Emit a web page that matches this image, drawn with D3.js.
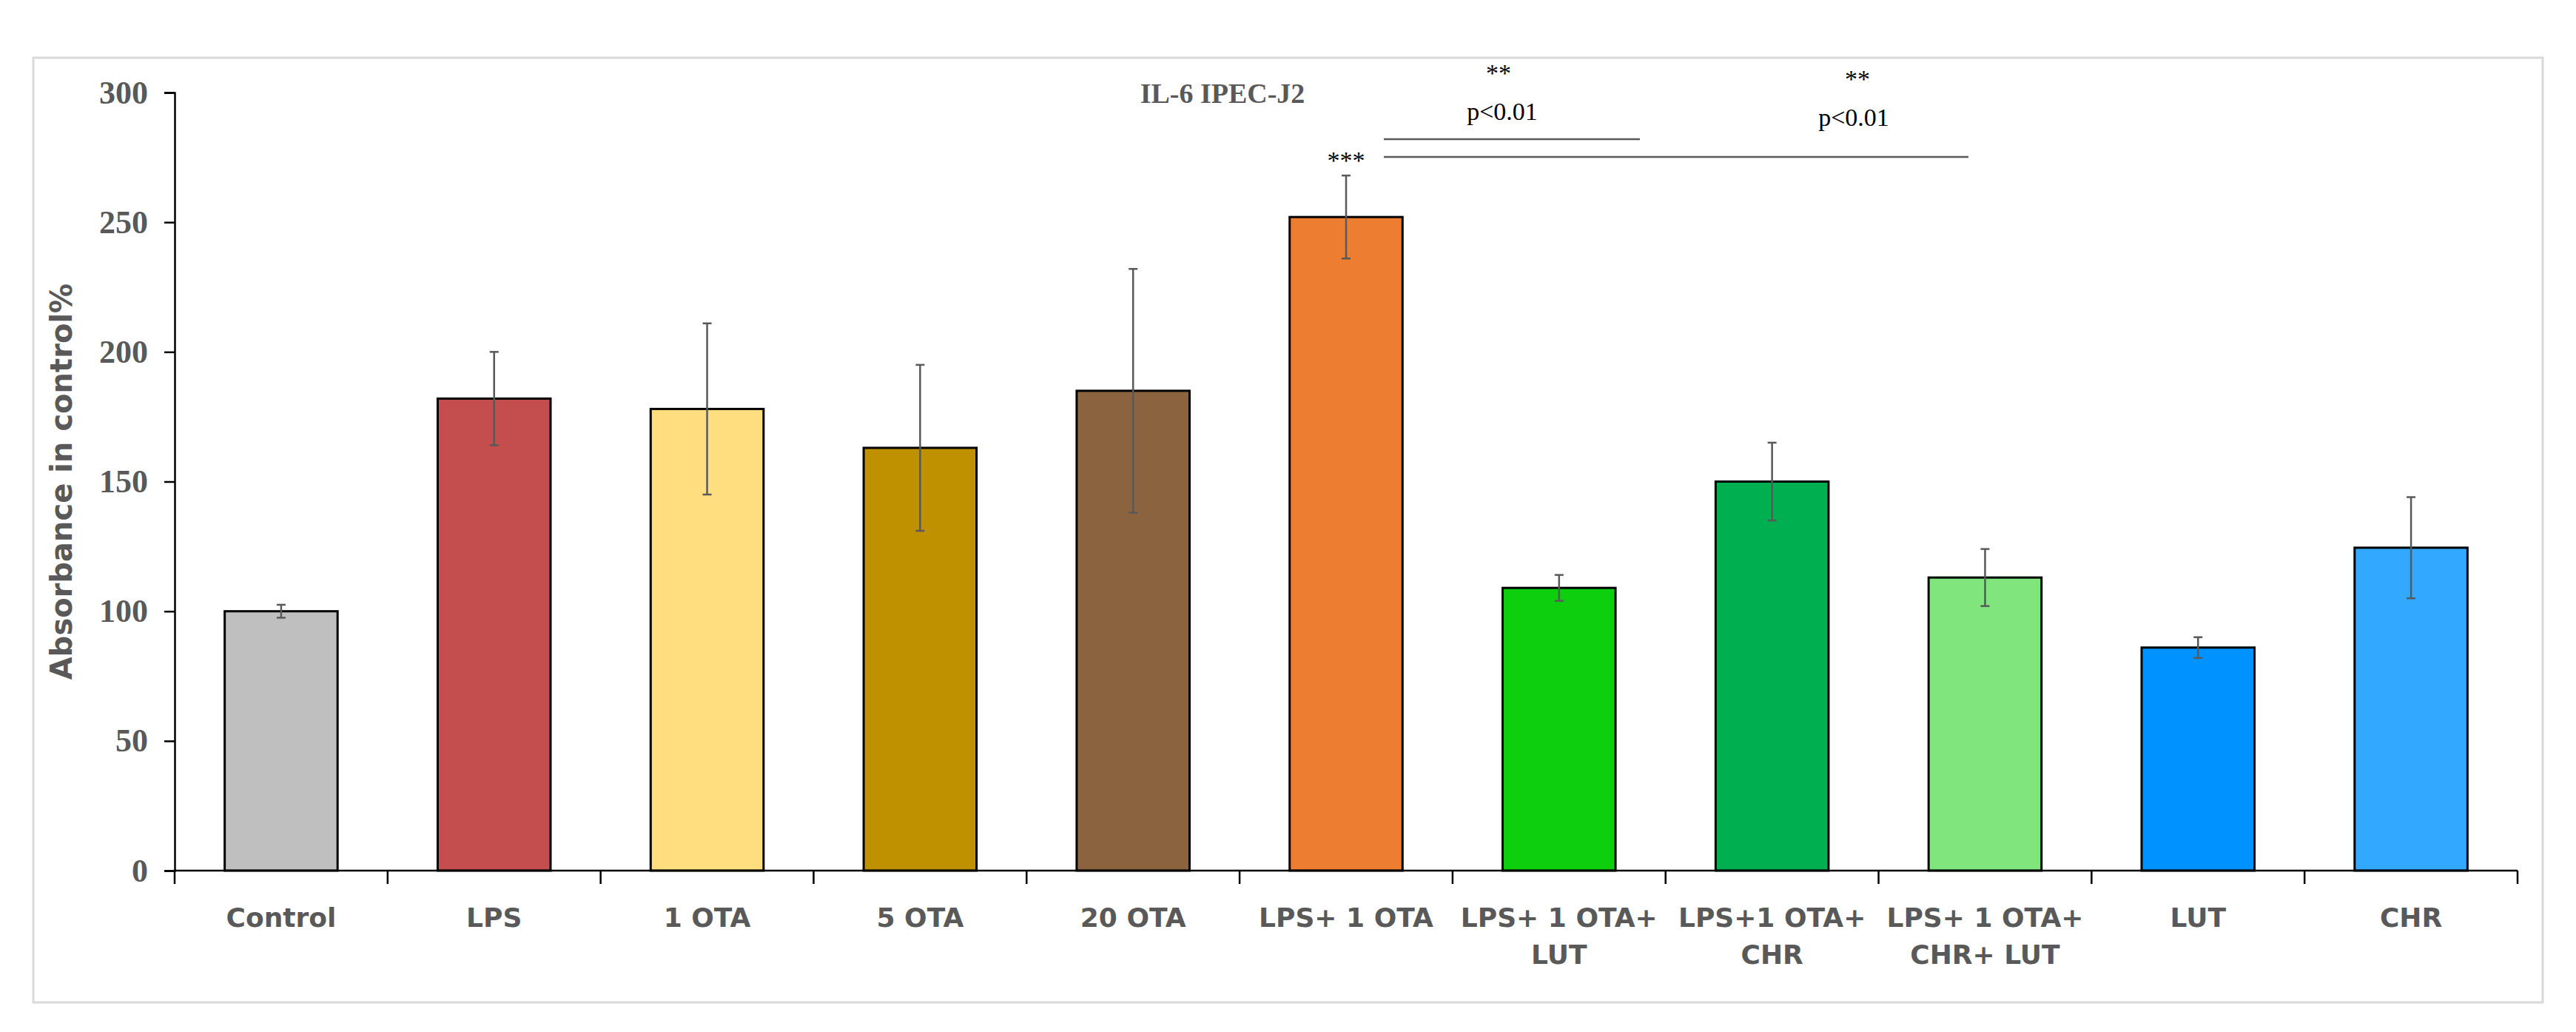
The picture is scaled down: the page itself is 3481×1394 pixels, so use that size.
<!DOCTYPE html><html><head><meta charset="utf-8">
<script src="https://cdn.jsdelivr.net/npm/d3@7"></script>
<style>body{margin:0;background:#fff}</style></head><body>
<script>
const categories=[["Control"],["LPS"],["1 OTA"],["5 OTA"],["20 OTA"],["LPS+ 1 OTA"],["LPS+ 1 OTA+","LUT"],["LPS+1 OTA+","CHR"],["LPS+ 1 OTA+","CHR+ LUT"],["LUT"],["CHR"]];
const values=[100,182,178,163,185,252,109,150,113,86,124.5];
const errors=[2.5,18,33,32,47,16,5,15,11,4,19.5];
const colors=["#bfbfbf","#c44d4d","#ffde80","#bf9000","#8b633f","#ed7d31","#0ecf0e","#00b050","#80e57c","#0092ff","#33a8ff"];
const yTicks=[0,50,100,150,200,250,300];
const W=3481,H=1394;
const svg=d3.select("body").append("svg").attr("width",W).attr("height",H);
svg.append("rect").attr("x",45).attr("y",78).attr("width",3391).attr("height",1276).attr("fill","#fff").attr("stroke","#d9d9d9").attr("stroke-width",3);
const x=d3.scaleBand().domain(d3.range(categories.length)).range([236,3402]).paddingInner(0.47).paddingOuter(0.235);
const y=d3.scaleLinear().domain([0,300]).range([1176,125]);
const g=svg.append("g");
g.selectAll("rect.bar").data(values).join("rect").attr("x",(d,i)=>x(i)).attr("y",d=>y(d)).attr("width",x.bandwidth()).attr("height",d=>y(0)-y(d)).attr("fill",(d,i)=>colors[i]).attr("stroke","#000").attr("stroke-width",3);
const eb=g.selectAll("g.eb").data(values).join("g").attr("stroke","#595959").attr("stroke-width",2.5);
eb.append("line").attr("x1",(d,i)=>x(i)+x.bandwidth()/2).attr("x2",(d,i)=>x(i)+x.bandwidth()/2).attr("y1",(d,i)=>y(d+errors[i])).attr("y2",(d,i)=>y(d-errors[i]));
[1,-1].forEach(s=>eb.append("line").attr("x1",(d,i)=>x(i)+x.bandwidth()/2-6).attr("x2",(d,i)=>x(i)+x.bandwidth()/2+6).attr("y1",(d,i)=>y(d+s*errors[i])).attr("y2",(d,i)=>y(d+s*errors[i])));
// y axis
const ya=svg.append("g").attr("transform","translate(236,0)").call(d3.axisLeft(y).tickValues(yTicks).tickSize(14).tickPadding(22));
ya.select(".domain").attr("stroke","#000").attr("stroke-width",2.5);
ya.selectAll(".tick line").attr("stroke","#000").attr("stroke-width",2.5);
ya.selectAll("text").attr("font-family","Liberation Serif").attr("font-weight","bold").attr("font-size",44).attr("fill","#595959");
// x axis
svg.append("line").attr("x1",236).attr("x2",3402).attr("y1",y(0)).attr("y2",y(0)).attr("stroke","#000").attr("stroke-width",2.5);
const bounds=d3.range(categories.length+1).map(i=>236+i*x.step()*(1));
const step=(3402-236)/categories.length;
svg.selectAll("line.xt").data(d3.range(categories.length+1)).join("line").attr("x1",i=>236+i*step).attr("x2",i=>236+i*step).attr("y1",y(0)).attr("y2",y(0)+18).attr("stroke","#000").attr("stroke-width",2.5);
const xl=svg.selectAll("text.xl").data(categories).join("text").attr("text-anchor","middle").attr("font-family","DejaVu Sans").attr("font-weight","bold").attr("font-size",36).attr("fill","#595959");
xl.each(function(lines,i){const t=d3.select(this);lines.forEach((l,k)=>t.append("tspan").attr("x",x(i)+x.bandwidth()/2).attr("y",1252+k*50).text(l));});
svg.append("text").attr("transform","translate(97,"+y(150)+") rotate(-90)").attr("text-anchor","middle").attr("font-family","DejaVu Sans").attr("font-weight","bold").attr("font-size",40).attr("fill","#595959").text("Absorbance in control%");
svg.append("text").attr("x",1652).attr("y",139).attr("text-anchor","middle").attr("font-family","Liberation Serif").attr("font-weight","bold").attr("font-size",38).attr("fill","#595959").text("IL-6 IPEC-J2");
const ann=svg.append("g").attr("font-family","Liberation Serif").attr("fill","#000").attr("text-anchor","middle");
ann.append("text").attr("x",1819).attr("y",228).attr("font-size",34).text("***");
ann.append("text").attr("x",2025).attr("y",110).attr("font-size",34).text("**");
ann.append("text").attr("x",2030).attr("y",162).attr("font-size",34).text("p<0.01");
ann.append("text").attr("x",2510).attr("y",118).attr("font-size",34).text("**");
ann.append("text").attr("x",2505).attr("y",170).attr("font-size",34).text("p<0.01");
svg.append("line").attr("x1",1870).attr("x2",2216).attr("y1",188).attr("y2",188).attr("stroke","#595959").attr("stroke-width",2.5);
svg.append("line").attr("x1",1870).attr("x2",2660).attr("y1",212).attr("y2",212).attr("stroke","#595959").attr("stroke-width",2.5);
</script></body></html>
